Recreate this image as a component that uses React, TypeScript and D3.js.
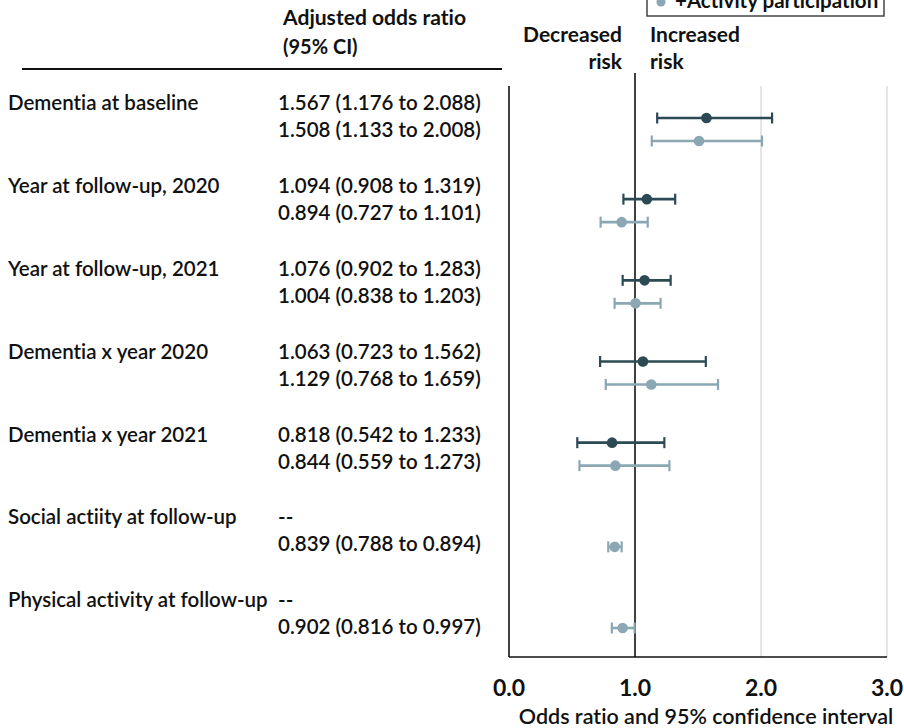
import React from "react";
import * as d3 from "d3";

const labels = [
  "Dementia at baseline",
  "Year at follow-up, 2020",
  "Year at follow-up, 2021",
  "Dementia x year 2020",
  "Dementia x year 2021",
  "Social actiity at follow-up",
  "Physical activity at follow-up",
];
// Model 1 (dark) — null where not in model
const baseOR = [1.567, 1.094, 1.076, 1.063, 0.818, null, null];
const baseLo = [1.176, 0.908, 0.902, 0.723, 0.542, null, null];
const baseHi = [2.088, 1.319, 1.283, 1.562, 1.233, null, null];
// Model 2 (+Activity participation, light)
const actOR = [1.508, 0.894, 1.004, 1.129, 0.844, 0.839, 0.902];
const actLo = [1.133, 0.727, 0.838, 0.768, 0.559, 0.788, 0.816];
const actHi = [2.008, 1.101, 1.203, 1.659, 1.273, 0.894, 0.997];
const xTicks = [0, 1, 2, 3];

const DARK = "#2c4a53";
const LIGHT = "#8aa7b3";
const FONT = "Lato, 'Open Sans', sans-serif";

const fmt = (v: number | null, lo: number | null, hi: number | null) =>
  v == null ? "--" : `${v.toFixed(3)} (${lo!.toFixed(3)} to ${hi!.toFixed(3)})`;

export default function App() {
  const W = 904, H = 728;
  const x = d3.scaleLinear().domain([0, 3]).range([509, 887]);
  const rowIdx = d3.range(labels.length);
  const yMark = d3.scaleLinear().domain([0, 6]).range([141, 628]);
  const yText = d3.scaleLinear().domain([0, 6]).range([103, 600]);
  const axTop = 86, axBot = 657;

  const errBar = (i: number, v: number | null, lo: number | null, hi: number | null, y: number, c: string) => {
    if (v == null) return null;
    return (
      <g key={`${c}-${i}`}>
        <line x1={x(lo!)} x2={x(hi!)} y1={y} y2={y} stroke={c} strokeWidth={2.6} />
        <line x1={x(lo!)} x2={x(lo!)} y1={y - 5.5} y2={y + 5.5} stroke={c} strokeWidth={2.2} />
        <line x1={x(hi!)} x2={x(hi!)} y1={y - 5.5} y2={y + 5.5} stroke={c} strokeWidth={2.2} />
        <circle cx={x(v)} cy={y} r={5.3} fill={c} />
      </g>
    );
  };

  return (
    <svg width={W} height={H} style={{ position: "absolute", left: 0, top: 0, background: "#fff", fontVariantLigatures: "none" }} fontFamily={FONT}>
      {/* legend (partially cropped at top, as in the source image) */}
      <rect x={647} y={-40} width={237} height={56} fill="#fff" stroke="#444" strokeWidth={1.5} />
      <circle cx={661} cy={2} r={4.5} fill={LIGHT} />
      <text x={675} y={1} dy="0.35em" fontSize={20.5} fontWeight={700} fill="#111">+Activity participation</text>

      {/* headers */}
      <text x={283} y={18} dy="0.35em" fontSize={20} fontWeight={700} fill="#111" textLength={183} lengthAdjust="spacingAndGlyphs">Adjusted odds ratio</text>
      <text x={283} y={47} dy="0.35em" fontSize={20} fontWeight={700} fill="#111">(95% CI)</text>
      <line x1={22} x2={502} y1={69} y2={69} stroke="#111" strokeWidth={2} />
      <text x={622} y={35} dy="0.35em" textAnchor="end" fontSize={21} fontWeight={700} fill="#111">Decreased</text>
      <text x={622} y={62} dy="0.35em" textAnchor="end" fontSize={21} fontWeight={700} fill="#111">risk</text>
      <text x={650} y={35} dy="0.35em" fontSize={21} fontWeight={700} fill="#111">Increased</text>
      <text x={650} y={62} dy="0.35em" fontSize={21} fontWeight={700} fill="#111">risk</text>

      {/* grid & axes */}
      {xTicks.filter((t) => t >= 2).map((t) => (
        <line key={t} x1={x(t)} x2={x(t)} y1={axTop} y2={axBot} stroke="#d4d4d4" strokeWidth={1.2} />
      ))}
      <line x1={x(0)} x2={x(0)} y1={axTop} y2={axBot} stroke="#111" strokeWidth={1.6} />
      <line x1={x(1)} x2={x(1)} y1={73} y2={axBot} stroke="#111" strokeWidth={1.6} />
      <line x1={x(0)} x2={x(3)} y1={axBot} y2={axBot} stroke="#111" strokeWidth={1.6} />

      {xTicks.map((t) => (
        <text key={t} x={x(t)} y={688} dy="0.35em" textAnchor="middle" fontSize={23} fontWeight={700} fill="#111">
          {t.toFixed(1)}
        </text>
      ))}
      <text x={706} y={716} dy="0.35em" textAnchor="middle" fontSize={21.5} fontWeight={600} fill="#111">
        Odds ratio and 95% confidence interval
      </text>

      {/* row labels & values */}
      {rowIdx.map((i) => (
        <g key={`t${i}`} fontSize={20.5} fontWeight={600} fill="#111">
          <text x={8} y={yText(i)} dy="0.35em">{labels[i]}</text>
          <text x={278} y={yText(i)} dy="0.35em">{fmt(baseOR[i], baseLo[i], baseHi[i])}</text>
          <text x={278} y={yText(i) + 27} dy="0.35em">{fmt(actOR[i], actLo[i], actHi[i])}</text>
        </g>
      ))}

      {/* error bars */}
      {rowIdx.map((i) => errBar(i, baseOR[i], baseLo[i], baseHi[i], yMark(i) - 23, DARK))}
      {rowIdx.map((i) => errBar(i, actOR[i], actLo[i], actHi[i], yMark(i), LIGHT))}
    </svg>
  );
}
